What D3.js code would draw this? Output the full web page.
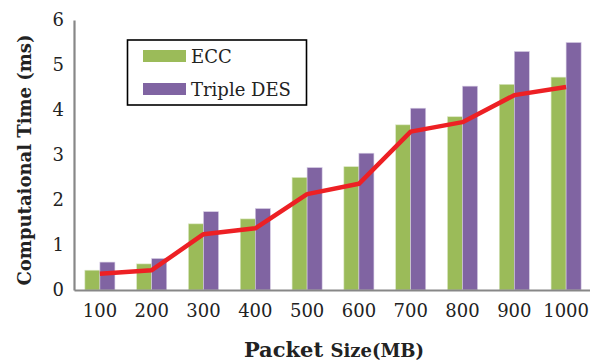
<!DOCTYPE html>
<html><head><meta charset="utf-8">
<script src="https://cdn.jsdelivr.net/npm/d3@7"></script>
<style>body{margin:0;background:#fff}svg{display:block}</style>
</head><body>
<svg id="c" width="590" height="362"></svg>
<script>
const categories = ["100","200","300","400","500","600","700","800","900","1000"];
const eccValues = [0.44,0.58,1.47,1.58,2.50,2.74,3.67,3.85,4.57,4.73];
const tdesValues = [0.62,0.70,1.74,1.81,2.72,3.04,4.04,4.53,5.30,5.50];
const lineValues = [0.36,0.44,1.24,1.37,2.13,2.36,3.52,3.73,4.33,4.51];
const yTicks = [0,1,2,3,4,5,6];
const seriesNames = ["ECC","Triple DES"];

(function(){
const svg = d3.select("#c");
const mLeft = 74, mRight = 592, mTop = 20, mBottom = 290;
const x = d3.scaleBand().domain(categories).range([mLeft, mRight]).padding(0);
const y = d3.scaleLinear().domain([0,6]).range([mBottom, mTop]);
const green = "#9bbb59", purple = "#8064a2", red = "#ed2024";
const serif = "'DejaVu Serif', serif";

const bw = x.bandwidth() * 0.29;
const g = svg.append("g");
categories.forEach((c,i)=>{
  const cx = x(c) + x.bandwidth()/2;
  g.append("rect").attr("x", cx - bw).attr("width", bw)
    .attr("y", y(eccValues[i])).attr("height", y(0)-y(eccValues[i]))
    .attr("fill", green).attr("stroke","#d9e6c2").attr("stroke-width",0.6);
  g.append("rect").attr("x", cx).attr("width", bw)
    .attr("y", y(tdesValues[i])).attr("height", y(0)-y(tdesValues[i]))
    .attr("fill", purple).attr("stroke","#d5cbe3").attr("stroke-width",0.6);
});

const yAxis = d3.axisLeft(y).tickValues(yTicks).tickFormat(d3.format("d")).tickSize(0).tickPadding(10);
const ya = svg.append("g").attr("transform",`translate(${mLeft},0)`).call(yAxis);
ya.select(".domain").attr("stroke","#878787").attr("stroke-width",2.2);
ya.selectAll("text").attr("font-family",serif).attr("font-size",18).attr("fill","#222");

const xAxis = d3.axisBottom(x).tickSize(0).tickPadding(14);
const xa = svg.append("g").attr("transform",`translate(0,${mBottom})`).call(xAxis);
xa.select(".domain").attr("stroke","#878787").attr("stroke-width",2.2);
xa.selectAll("text").attr("font-family",serif).attr("font-size",18).attr("fill","#222");

const line = d3.line().x((d,i)=>x(categories[i])+x.bandwidth()/2).y(d=>y(d));
svg.append("path").datum(lineValues).attr("d", line)
  .attr("fill","none").attr("stroke",red).attr("stroke-width",4.5)
  .attr("stroke-linejoin","round").attr("stroke-linecap","butt");

const lg = svg.append("g");
lg.append("rect").attr("x",127.5).attr("y",40).attr("width",179).attr("height",65)
  .attr("fill","#fff").attr("stroke","#000").attr("stroke-width",1.6);
const colors = [green, purple];
seriesNames.forEach((n,i)=>{
  lg.append("rect").attr("x",143).attr("y",50+i*33).attr("width",43).attr("height",12).attr("fill",colors[i]);
  lg.append("text").attr("x",191).attr("y",63+i*33).text(n)
    .attr("font-family",serif).attr("font-size",18).attr("fill","#222");
});

svg.append("text").attr("transform",`translate(31,160) rotate(-90)`)
  .attr("text-anchor","middle").attr("font-family",serif).attr("font-weight","bold")
  .attr("font-size",18).attr("fill","#222").text("Computaional Time (ms)");
const xt = svg.append("text").attr("x",334).attr("y",357).attr("text-anchor","middle")
  .attr("font-family",serif).attr("font-weight","bold").attr("fill","#222");
xt.append("tspan").attr("font-size",21).text("Packet ");
xt.append("tspan").attr("font-size",18).text("Size(MB)");
})();
</script>
</body></html>
